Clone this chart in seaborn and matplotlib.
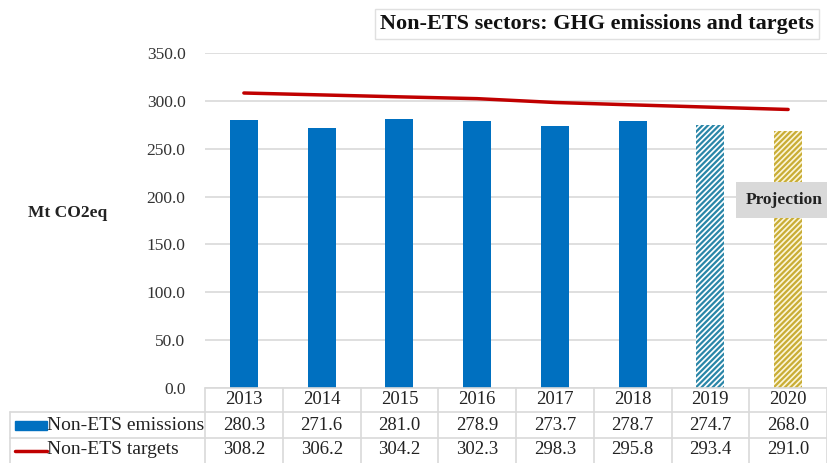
import numpy as np
import pandas as pd
import matplotlib
matplotlib.use("Agg")
import matplotlib.pyplot as plt
import matplotlib.transforms as mtransforms
from matplotlib.patches import Rectangle
from matplotlib.lines import Line2D
import seaborn as sns

# Data
years = ["2013", "2014", "2015", "2016", "2017", "2018", "2019", "2020"]
emissions = [280.3, 271.6, 281.0, 278.9, 273.7, 278.7, 274.7, 268.0]
targets = [308.2, 306.2, 304.2, 302.3, 298.3, 295.8, 293.4, 291.0]
yticks = [0, 50, 100, 150, 200, 250, 300, 350]
row_labels = ["Non-ETS emissions", "Non-ETS targets"]

BLUE = "#0070C0"
RED = "#C00000"
GRID = "#D9D9D9"

sns.set_theme(style="white")
plt.rcParams["font.family"] = ["Liberation Serif", "DejaVu Serif"]
plt.rcParams["hatch.linewidth"] = 1.6

W, H = 827, 463
fig = plt.figure(figsize=(W / 100, H / 100), dpi=100)
ax = fig.add_axes([205 / W, 75 / H, 622 / W, 335 / H])

df = pd.DataFrame({"year": years, "emissions": emissions})
sns.barplot(data=df, x="year", y="emissions", color=BLUE, width=0.36,
            saturation=1, ax=ax, zorder=3, linewidth=0)

# projected years get hatched bars
hatch_styles = [("#FFFFFF", "#2A86A8"), ("#FBF5D8", "#C9AD35")]
for patch, (fc, ec) in zip(ax.patches[-2:], hatch_styles):
    patch.set_facecolor(fc)
    patch.set_edgecolor(ec)
    patch.set_hatch("//////")
    patch.set_linewidth(0)

sns.lineplot(x=np.arange(len(years)), y=targets, color=RED, linewidth=2.5,
             ax=ax, zorder=4)

ax.set_xlim(-0.5, len(years) - 0.5)
ax.set_ylim(0, 350)
ax.set_yticks(yticks)
ax.set_yticklabels([f"{v:.1f}" for v in yticks], fontsize=12.5, color="#333333")
ax.tick_params(axis="y", length=0, pad=14)
ax.set_xticks([])
ax.set_xlabel("")
ax.set_ylabel("")
ax.grid(axis="y", color=GRID, linewidth=1.2, zorder=0)
for s in ax.spines.values():
    s.set_visible(False)

# data table under the axes
def fy(py):
    return 1 - py / H

blend = mtransforms.blended_transform_factory(ax.transData, fig.transFigure)
for x in np.arange(len(years) + 1) - 0.5:
    ax.add_line(Line2D([x, x], [fy(388), fy(463)], transform=blend,
                       color=GRID, lw=1.2, clip_on=False))
fig.add_artist(Line2D([205 / W, 1], [fy(388), fy(388)], color=GRID, lw=1.2))
for py in (412, 438):
    fig.add_artist(Line2D([10 / W, 1], [fy(py), fy(py)], color=GRID, lw=1.2))
fig.add_artist(Line2D([10 / W, 10 / W], [fy(412), fy(463)], color=GRID, lw=1.2))

for i, yr in enumerate(years):
    ax.text(i, fy(400), yr, transform=blend, ha="center", va="center",
            fontsize=13.5, color="#222222")
    ax.text(i, fy(425), f"{emissions[i]:.1f}", transform=blend, ha="center",
            va="center", fontsize=13.5, color="#222222")
    ax.text(i, fy(450), f"{targets[i]:.1f}", transform=blend, ha="center",
            va="center", fontsize=13.5, color="#222222")

fig.add_artist(Rectangle((15 / W, fy(430)), 32 / W, 9 / H, color=BLUE,
                         transform=fig.transFigure))
fig.add_artist(Line2D([15 / W, 47 / W], [fy(451), fy(451)], color=RED, lw=2.5))
fig.text(47 / W, fy(425), row_labels[0], ha="left", va="center",
         fontsize=14, color="#222222")
fig.text(47 / W, fy(450), row_labels[1], ha="left", va="center",
         fontsize=14, color="#222222")

fig.text(68 / W, fy(213), "Mt CO2eq", ha="center", va="center",
         fontsize=12.5, fontweight="bold", color="#222222")

fig.text(597 / W, fy(24), "Non-ETS sectors: GHG emissions and targets",
         ha="center", va="center", fontsize=16, fontweight="bold",
         color="#111111",
         bbox=dict(boxstyle="square,pad=0.22", fc="white", ec="#E0E0E0", lw=1))

fig.text(784 / W, fy(200), "Projection", ha="center", va="center",
         fontsize=12.5, fontweight="bold", color="#222222", zorder=5,
         bbox=dict(boxstyle="square,pad=0.55", fc="#D9D9D9", ec="none"))

fig.savefig("out.png", dpi=100)
